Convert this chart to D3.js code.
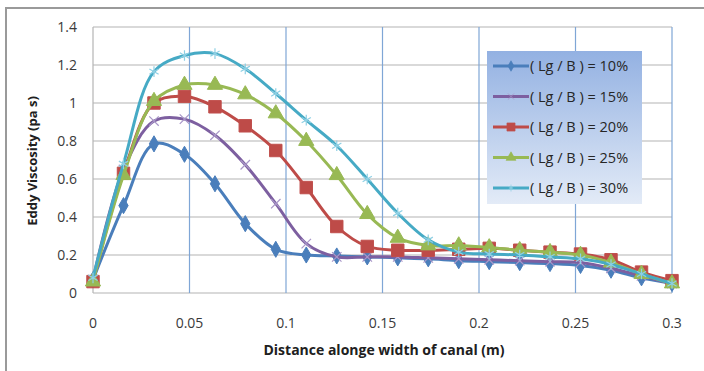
<!DOCTYPE html>
<html>
<head>
<meta charset="utf-8">
<script src="https://cdn.jsdelivr.net/npm/d3@7"></script>
<style>
  body { margin: 0; background: #fff; }
  text { font-family: "Open Sans", "Liberation Sans", sans-serif; }
</style>
</head>
<body>
<script>
// distance along width of canal (m), 20 stations
var xs = d3.range(20).map(function(i) { return +(i * 0.3 / 19).toFixed(4); });

var labels = ['( Lg / B ) = 10%', '( Lg / B ) = 15%', '( Lg / B ) = 20%', '( Lg / B ) = 25%', '( Lg / B ) = 30%'];
var colors = ['#4a7ebb', '#7d5fa0', '#be4b48', '#98b954', '#46aac5'];

var lg10 = [0.07, 0.46, 0.785, 0.73, 0.575, 0.365, 0.23, 0.2, 0.195, 0.19, 0.185, 0.18, 0.17, 0.165, 0.16, 0.155, 0.145, 0.12, 0.08, 0.05];
var lg15 = [0.07, 0.65, 0.905, 0.915, 0.83, 0.675, 0.47, 0.26, 0.19, 0.19, 0.19, 0.185, 0.18, 0.175, 0.17, 0.165, 0.16, 0.13, 0.09, 0.05];
var lg20 = [0.06, 0.63, 1.0, 1.035, 0.98, 0.88, 0.75, 0.555, 0.35, 0.245, 0.225, 0.225, 0.23, 0.235, 0.225, 0.215, 0.205, 0.175, 0.11, 0.065];
var lg25 = [0.06, 0.62, 1.01, 1.095, 1.095, 1.045, 0.945, 0.8, 0.62, 0.415, 0.29, 0.25, 0.25, 0.24, 0.225, 0.215, 0.2, 0.16, 0.1, 0.05];
var lg30 = [0.08, 0.68, 1.165, 1.25, 1.26, 1.18, 1.05, 0.91, 0.775, 0.6, 0.42, 0.28, 0.215, 0.205, 0.2, 0.19, 0.18, 0.15, 0.1, 0.05];

var xTicks = [0, 0.05, 0.1, 0.15, 0.2, 0.25, 0.3];
var yTicks = [0, 0.2, 0.4, 0.6, 0.8, 1, 1.2, 1.4];

var series = [lg10, lg15, lg20, lg25, lg30];

var svg = d3.select('body').append('svg')
    .attr('width', 704)
    .attr('height', 371);

// outer frame (only top/left visible)
svg.append('path')
    .attr('d', 'M6,371 L6,8 L704,8')
    .attr('fill', 'none')
    .attr('stroke', '#9a9a9a')
    .attr('stroke-width', 2);

var x = d3.scaleLinear().domain([0, 0.3]).range([93, 672]);
var y = d3.scaleLinear().domain([0, 1.4]).range([293, 27]);

// horizontal grid
svg.append('g').selectAll('line').data(yTicks).enter().append('line')
    .attr('x1', 93).attr('x2', 672)
    .attr('y1', function(d) { return y(d); })
    .attr('y2', function(d) { return y(d); })
    .attr('stroke', '#b4b4b4')
    .attr('stroke-width', 1.2);

// vertical grid
svg.append('g').selectAll('line').data(xTicks.slice(1)).enter().append('line')
    .attr('x1', function(d) { return x(d); })
    .attr('x2', function(d) { return x(d); })
    .attr('y1', 27).attr('y2', 293)
    .attr('stroke', '#7fa6d6')
    .attr('stroke-width', 1.2);

// left axis line
svg.append('line')
    .attr('x1', 93).attr('x2', 93).attr('y1', 27).attr('y2', 293)
    .attr('stroke', '#b4b4b4').attr('stroke-width', 1.2);

// tick labels
svg.append('g').selectAll('text').data(yTicks).enter().append('text')
    .attr('x', 77)
    .attr('y', function(d) { return y(d) + 5; })
    .attr('text-anchor', 'end')
    .attr('font-size', 14)
    .attr('fill', '#3a3a3a')
    .text(function(d) { return d; });

svg.append('g').selectAll('text').data(xTicks).enter().append('text')
    .attr('x', function(d) { return x(d); })
    .attr('y', 328)
    .attr('text-anchor', 'middle')
    .attr('font-size', 14)
    .attr('fill', '#3a3a3a')
    .text(function(d) { return d; });

// axis titles
svg.append('text')
    .attr('x', 384).attr('y', 355)
    .attr('text-anchor', 'middle')
    .attr('font-size', 14)
    .attr('font-weight', 'bold')
    .attr('fill', '#202020')
    .text('Distance alonge width of canal (m)');

svg.append('text')
    .attr('transform', 'translate(37,161) rotate(-90)')
    .attr('text-anchor', 'middle')
    .attr('font-size', 13)
    .attr('font-weight', 'bold')
    .attr('fill', '#202020')
    .text('Eddy Viscosity (pa s)');

var line = d3.line()
    .x(function(d, i) { return x(xs[i]); })
    .y(function(d) { return y(d); })
    .curve(d3.curveCatmullRom.alpha(0.5));

// marker drawing per series
function marker(sel, k) {
    if (k == 0) {
        sel.attr('d', d3.symbol().type(d3.symbolDiamond).size(75))
            .attr('fill', colors[k]).attr('stroke', colors[k]).attr('stroke-width', 1);
    } else if (k == 1) {
        sel.attr('d', d3.symbol().type(d3.symbolX).size(60))
            .attr('fill', 'none').attr('stroke', '#a896c8').attr('stroke-width', 1.2);
    } else if (k == 2) {
        sel.attr('d', d3.symbol().type(d3.symbolSquare).size(155))
            .attr('fill', colors[k]).attr('stroke', '#c0504d').attr('stroke-width', 1);
    } else if (k == 3) {
        sel.attr('d', d3.symbol().type(d3.symbolTriangle).size(100))
            .attr('fill', colors[k]).attr('stroke', colors[k]).attr('stroke-width', 1);
    } else {
        sel.attr('d', d3.symbol().type(d3.symbolAsterisk).size(80))
            .attr('fill', 'none').attr('stroke', '#8fd0e4').attr('stroke-width', 1.2);
    }
}

series.forEach(function(vals, k) {
    var g = svg.append('g');
    g.append('path')
        .attr('d', line(vals))
        .attr('fill', 'none')
        .attr('stroke', colors[k])
        .attr('stroke-width', 3);
    g.selectAll('path.m').data(vals).enter().append('path')
        .attr('class', 'm')
        .attr('transform', function(d, i) { return 'translate(' + x(xs[i]) + ',' + y(d) + ')'; })
        .call(marker, k);
});

// legend
var defs = svg.append('defs');
var grad = defs.append('linearGradient')
    .attr('id', 'lgGrad')
    .attr('x1', 0).attr('y1', 0).attr('x2', 0).attr('y2', 1);
grad.append('stop').attr('offset', '0%').attr('stop-color', '#93b1e2');
grad.append('stop').attr('offset', '100%').attr('stop-color', '#e3ebf7');

svg.append('rect')
    .attr('x', 487).attr('y', 51)
    .attr('width', 155).attr('height', 153)
    .attr('fill', 'url(#lgGrad)');

var leg = svg.append('g').selectAll('g').data(labels).enter().append('g')
    .attr('transform', function(d, i) { return 'translate(0,' + (66 + i * 30.5) + ')'; });

leg.append('line')
    .attr('x1', 493).attr('x2', 529)
    .attr('stroke', function(d, i) { return colors[i]; })
    .attr('stroke-width', 3);

// legend markers are drawn smaller than in the plot
leg.append('path')
    .attr('transform', 'translate(511,0) scale(0.65)')
    .each(function(d, i) { d3.select(this).call(marker, i); });

leg.append('text')
    .attr('x', 530).attr('y', 5)
    .attr('font-size', 14.5)
    .attr('fill', '#262626')
    .text(function(d) { return d; });
</script>
</body>
</html>
